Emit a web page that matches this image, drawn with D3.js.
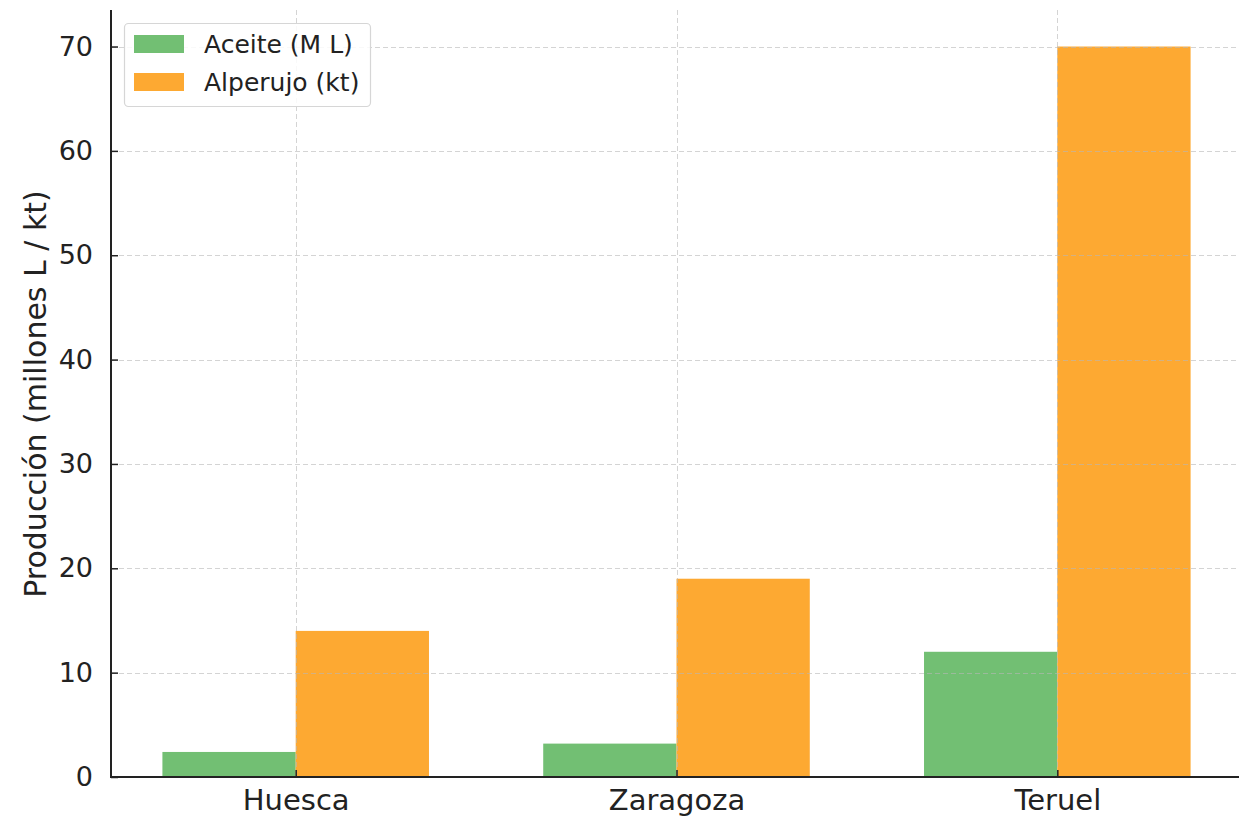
<!DOCTYPE html>
<html><head><meta charset="utf-8">
<script src="https://cdn.jsdelivr.net/npm/d3@7"></script>
<style>body{margin:0;background:#fff}svg{display:block}text{font-family:"DejaVu Sans",sans-serif}</style>
</head><body>
<svg id="c" width="1239" height="819"></svg>
<script>
const categories = ["Huesca", "Zaragoza", "Teruel"];
const aceite = [2.4, 3.2, 12.0];
const alperujo = [14.0, 19.0, 70.0];
const seriesNames = ["Aceite (M L)", "Alperujo (kt)"];
const seriesColors = ["#72bf73", "#fda932"];
const yTicks = [0, 10, 20, 30, 40, 50, 60, 70];
const yLabel = "Producción (millones L / kt)";

const svg = d3.select("#c");
const L = 111, R = 1242, T = 10, B = 777;
const barW = 0.35;
const x = d3.scaleLinear().domain([-0.485, 2.485]).range([L, R]);
const y = d3.scaleLinear().domain([0, 73.5]).range([B, T]);

const series = [aceite, alperujo];
const g = svg.append("g");
series.forEach((vals, si) => {
  g.selectAll(null).data(vals).enter().append("rect")
    .attr("x", (d, i) => x(si === 0 ? i - barW : i))
    .attr("width", x(barW) - x(0))
    .attr("y", d => y(d))
    .attr("height", d => y(0) - y(d))
    .attr("fill", seriesColors[si]);
});
const grid = svg.append("g").attr("stroke", "#b8b8b8").attr("stroke-opacity", 0.6)
  .attr("stroke-dasharray", "5,3").attr("stroke-width", 1);
grid.selectAll(null).data(yTicks).enter().append("line")
  .attr("x1", L).attr("x2", R).attr("y1", d => Math.round(y(d)) + 0.5).attr("y2", d => Math.round(y(d)) + 0.5);
grid.selectAll(null).data(categories).enter().append("line")
  .attr("y1", T).attr("y2", B).attr("x1", (d, i) => Math.round(x(i)) + 0.5).attr("x2", (d, i) => Math.round(x(i)) + 0.5);

const yAxis = d3.axisLeft(y).tickValues(yTicks).tickSize(-7).tickPadding(18).tickFormat(d3.format("d"));
const ya = svg.append("g").attr("transform", `translate(${L},0)`).call(yAxis);
ya.select(".domain").remove();
ya.selectAll(".tick line").attr("stroke", "#222").attr("stroke-width", 1.5);
ya.selectAll("text").attr("font-size", 27).attr("fill", "#222").attr("font-family", "DejaVu Sans");

const xAxis = d3.axisBottom(x).tickValues([0, 1, 2]).tickFormat(i => categories[i]).tickSize(-7).tickPadding(12);
const xa = svg.append("g").attr("transform", `translate(0,${B})`).call(xAxis);
xa.select(".domain").remove();
xa.selectAll(".tick line").attr("stroke", "#222").attr("stroke-width", 1.5);
xa.selectAll("text").attr("font-size", 29).attr("fill", "#222").attr("font-family", "DejaVu Sans");

svg.append("line").attr("x1", L).attr("x2", L).attr("y1", T).attr("y2", B + 1).attr("stroke", "#222").attr("stroke-width", 2);
svg.append("line").attr("x1", L - 1).attr("x2", 1239).attr("y1", B).attr("y2", B).attr("stroke", "#222").attr("stroke-width", 2);

svg.append("text").attr("transform", `translate(46,394) rotate(-90)`)
  .attr("text-anchor", "middle").attr("font-size", 30).attr("fill", "#222").text(yLabel);

const lg = svg.append("g");
lg.append("rect").attr("x", 124.5).attr("y", 23.5).attr("width", 246).attr("height", 83).attr("rx", 4)
  .attr("fill", "#fff").attr("fill-opacity", 0.85).attr("stroke", "#d6d6d6").attr("stroke-width", 1.2);
seriesNames.forEach((n, i) => {
  lg.append("rect").attr("x", 134).attr("y", 35 + i * 38).attr("width", 50).attr("height", 18).attr("fill", seriesColors[i]);
  lg.append("text").attr("x", 204).attr("y", 53 + i * 38).attr("font-size", 25).attr("fill", "#222").text(n);
});
</script>
</body></html>
